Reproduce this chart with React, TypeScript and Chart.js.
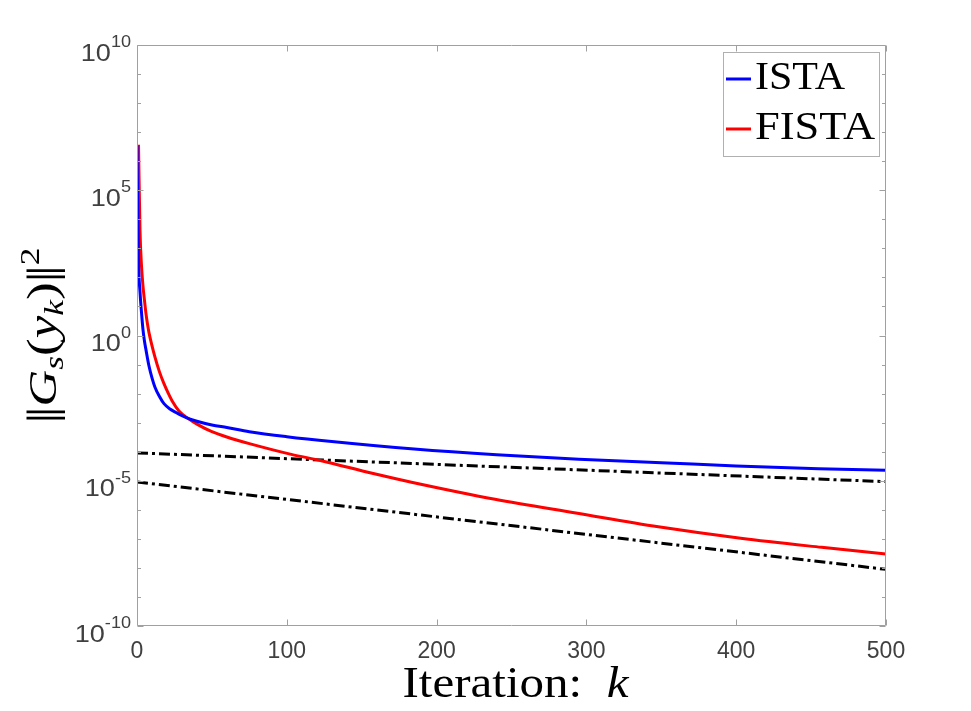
import React, { useEffect, useRef } from "react";
import { Chart, registerables } from "chart.js";

Chart.register(...registerables);

// ---- data ----
const istaK = [0, 1, 2, 3, 4, 5, 6, 8, 10, 12, 15, 18, 22, 26, 30, 34, 40, 50, 60, 75, 100, 130, 185, 240, 295, 350, 400, 455, 500];
const istaVals = [3.5e6, 4.0e2, 3.2e1, 6.3, 1.6, 6.3e-1, 3.2e-1, 8.9e-2, 3.5e-2, 1.66e-2, 7.9e-3, 4.5e-3, 2.95e-3, 2.24e-3, 1.74e-3, 1.41e-3, 1.12e-3, 8.3e-4, 6.8e-4, 4.9e-4, 3.3e-4, 2.24e-4, 1.23e-4, 7.8e-5, 5.5e-5, 4.2e-5, 3.2e-5, 2.6e-5, 2.3e-5];

const fistaK = [1, 2, 3, 4, 5, 6, 7, 8, 10, 12, 15, 18, 21, 24, 28, 34, 40, 50, 60, 75, 103, 123, 157, 184, 239, 294, 348, 403, 457, 500];
const fistaVals = [3.7e6, 4.0e3, 2.5e2, 5.0e1, 1.6e1, 5.6, 2.5, 1.26, 4.5e-1, 1.8e-1, 5.6e-2, 2.2e-2, 1.0e-2, 5.0e-3, 2.5e-3, 1.41e-3, 8.9e-4, 4.9e-4, 3.2e-4, 1.9e-4, 8.1e-5, 4.9e-5, 1.8e-5, 8.7e-6, 2.3e-6, 7.6e-7, 2.6e-7, 1.05e-7, 5.1e-8, 3.0e-8];

const upperBoundK = [0, 500];
const upperBoundVals = [9.1e-5, 9.3e-6];
const lowerBoundK = [0, 500];
const lowerBoundVals = [9.1e-6, 8.9e-9];

const xTickValues = [0, 100, 200, 300, 400, 500];
const yTickExponents = ["10", "5", "0", "-5", "-10"];
const legendLabels = ["ISTA", "FISTA"];
const legendColors = ["#0000ff", "#ff0000"];

const toPoints = (ks: number[], vs: number[]) => ks.map((k, i) => ({ x: k, y: vs[i] }));

const SERIF = '"Liberation Serif", "DejaVu Serif", serif';
const SANS = '"Liberation Sans", Arial, sans-serif';

type Run = { t: string; font: string; dy: number; adv?: number };

function drawRuns(
  ctx: CanvasRenderingContext2D,
  runs: Run[],
  x: number,
  y: number,
  align: "left" | "center" | "right",
  opts: { targetWidth?: number; sx?: number } = {}
) {
  let w = 0;
  const ws = runs.map((r) => {
    ctx.font = r.font;
    const m = r.adv !== undefined ? r.adv : ctx.measureText(r.t).width;
    w += m;
    return m;
  });
  const sx = opts.targetWidth ? opts.targetWidth / w : opts.sx || 1;
  ctx.save();
  ctx.translate(x, y);
  ctx.scale(sx, 1);
  ctx.textAlign = "left";
  ctx.textBaseline = "alphabetic";
  let cx = align === "center" ? -w / 2 : align === "right" ? -w : 0;
  runs.forEach((r, i) => {
    ctx.font = r.font;
    ctx.fillText(r.t, cx, r.dy);
    cx += ws[i];
  });
  ctx.restore();
}

const decorPlugin = {
  id: "decor",
  afterDatasetsDraw(chart: any) {
    const { ctx, chartArea: a, scales } = chart;
    const x = scales.x;
    const y = scales.y;
    ctx.save();

    // axes box
    ctx.strokeStyle = "#a0a0a0";
    ctx.lineWidth = 1;
    const L = Math.round(a.left) + 0.5;
    const R = Math.round(a.right) - 0.5;
    const T = Math.round(a.top) + 0.5;
    const B = Math.round(a.bottom) - 0.5;
    ctx.beginPath();
    ctx.moveTo(L, T);
    ctx.lineTo(R, T);
    ctx.lineTo(R, B);
    ctx.lineTo(L, B);
    ctx.closePath();
    ctx.stroke();

    // x ticks (inward, bottom and top)
    ctx.beginPath();
    for (const v of xTickValues) {
      const px = Math.round(x.getPixelForValue(v)) + 0.5;
      ctx.moveTo(px, B);
      ctx.lineTo(px, B - 6);
      ctx.moveTo(px, T);
      ctx.lineTo(px, T + 6);
    }
    // y ticks every decade (inward, left and right)
    for (let e = -10; e <= 10; e++) {
      const py = Math.round(y.getPixelForValue(Math.pow(10, e))) + 0.5;
      const len = e % 5 === 0 ? 6 : 3.5;
      ctx.moveTo(L, py);
      ctx.lineTo(L + len, py);
      ctx.moveTo(R, py);
      ctx.lineTo(R - len, py);
    }
    ctx.stroke();

    // x tick labels
    ctx.fillStyle = "#404040";
    for (const v of xTickValues) {
      drawRuns(ctx, [{ t: String(v), font: `23px ${SANS}`, dy: 0 }], x.getPixelForValue(v), a.bottom + 32, "center", { sx: 1.0 });
    }

    // y tick labels 10^e
    for (const ex of yTickExponents) {
      const py = y.getPixelForValue(Math.pow(10, Number(ex)));
      drawRuns(
        ctx,
        [
          { t: "10", font: `24px ${SANS}`, dy: 15.5 },
          { t: ex, font: `16px ${SANS}`, dy: 2 },
        ],
        a.left - 6,
        py,
        "right",
        { sx: 1.13 }
      );
    }

    // x title
    ctx.fillStyle = "#000";
    drawRuns(
      ctx,
      [
        { t: "Iteration:  ", font: `44px ${SERIF}`, dy: 0 },
        { t: "k", font: `italic 44px ${SERIF}`, dy: 0 },
      ],
      (a.left + a.right) / 2 + 4,
      697,
      "center",
      { targetWidth: 226 }
    );

    // y title (rotated)
    ctx.save();
    ctx.translate(56, (a.top + a.bottom) / 2);
    ctx.rotate(-Math.PI / 2);
    drawRuns(
      ctx,
      [
        { t: "|", font: `42px ${SERIF}`, dy: 0, adv: 5 },
        { t: "|", font: `42px ${SERIF}`, dy: 0 },
        { t: "G", font: `italic 40px ${SERIF}`, dy: 0 },
        { t: "s", font: `italic 28px ${SERIF}`, dy: 7 },
        { t: "(", font: `42px ${SERIF}`, dy: 0 },
        { t: "y", font: `italic 40px ${SERIF}`, dy: 0 },
        { t: "k", font: `italic 28px ${SERIF}`, dy: 7 },
        { t: ")", font: `42px ${SERIF}`, dy: 0 },
        { t: "|", font: `42px ${SERIF}`, dy: 0, adv: 5 },
        { t: "|", font: `42px ${SERIF}`, dy: 0 },
        { t: "2", font: `28px ${SERIF}`, dy: -17 },
      ],
      0,
      0,
      "center",
      { targetWidth: 176 }
    );
    ctx.restore();

    // legend
    const bx = 723.5, by = 52.5, bw = 156, bh = 104;
    ctx.fillStyle = "#ffffff";
    ctx.fillRect(bx, by, bw, bh);
    ctx.strokeStyle = "#b0b0b0";
    ctx.lineWidth = 1;
    ctx.strokeRect(bx, by, bw, bh);
    const rows = [79, 129];
    const widths = [90, 120];
    legendLabels.forEach((lab, i) => {
      ctx.strokeStyle = legendColors[i];
      ctx.lineWidth = 3;
      ctx.beginPath();
      ctx.moveTo(726, rows[i]);
      ctx.lineTo(751, rows[i]);
      ctx.stroke();
      ctx.fillStyle = "#000";
      drawRuns(ctx, [{ t: lab, font: `41px ${SERIF}`, dy: 0 }], 755, rows[i] + 9.5, "left", { targetWidth: widths[i] });
    });

    ctx.restore();
  },
};

export default function App() {
  const canvasRef = useRef<HTMLCanvasElement | null>(null);

  useEffect(() => {
    document.body.style.margin = "0";
    document.body.style.overflow = "hidden";
    const canvas = canvasRef.current;
    if (!canvas) return;
    const chart = new Chart(canvas, {
      type: "line",
      data: {
        datasets: [
          {
            label: legendLabels[0],
            data: toPoints(istaK, istaVals),
            borderColor: legendColors[0],
            borderWidth: 3,
            pointRadius: 0,
            cubicInterpolationMode: "monotone",
            fill: false,
          },
          {
            label: legendLabels[1],
            data: toPoints(fistaK, fistaVals),
            borderColor: legendColors[1],
            borderWidth: 3,
            pointRadius: 0,
            cubicInterpolationMode: "monotone",
            fill: false,
          },
          {
            label: "bound 1",
            data: toPoints(upperBoundK, upperBoundVals),
            borderColor: "#000000",
            borderWidth: 3,
            borderDash: [11, 4, 3, 4],
            pointRadius: 0,
            tension: 0,
            fill: false,
          },
          {
            label: "bound 2",
            data: toPoints(lowerBoundK, lowerBoundVals),
            borderColor: "#000000",
            borderWidth: 3,
            borderDash: [11, 4, 3, 4],
            pointRadius: 0,
            tension: 0,
            fill: false,
          },
        ],
      },
      options: {
        responsive: false,
        animation: false,
        parsing: false,
        normalized: true,
        layout: { padding: { left: 137, right: 85, top: 45, bottom: 85 } },
        scales: {
          x: { type: "linear", min: 0, max: 500, display: false },
          y: { type: "logarithmic", min: 1e-10, max: 1e10, display: false },
        },
        plugins: {
          legend: { display: false },
          tooltip: { enabled: false },
        },
      },
      plugins: [decorPlugin],
    } as any);
    return () => chart.destroy();
  }, []);

  return (
    <div style={{ width: 971, height: 711, background: "#fff" }}>
      <canvas ref={canvasRef} width={971} height={711} style={{ display: "block" }} />
    </div>
  );
}
